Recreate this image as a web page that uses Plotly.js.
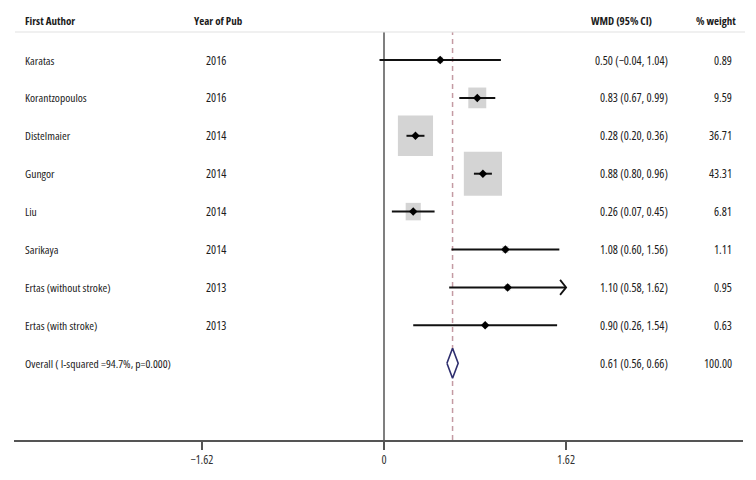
<!DOCTYPE html>
<html>
<head>
<meta charset="utf-8">
<script src="https://cdn.plot.ly/plotly-3.0.1.min.js"></script>
<style>
html,body{margin:0;padding:0;background:#fff;}
#chart{width:756px;height:480px;}
text{font-stretch:condensed !important;}
</style>
</head>
<body>
<div id="chart"></div>
<script>
// ---- data ----
var authors = ["Karatas", "Korantzopoulos", "Distelmaier", "Gungor", "Liu", "Sarikaya", "Ertas (without stroke)", "Ertas (with stroke)"];
var years = ["2016", "2016", "2014", "2014", "2014", "2014", "2013", "2013"];
var est = [0.50, 0.83, 0.28, 0.88, 0.26, 1.08, 1.10, 0.90];
var lo = [-0.04, 0.67, 0.20, 0.80, 0.07, 0.60, 0.58, 0.26];
var hi = [1.04, 0.99, 0.36, 0.96, 0.45, 1.56, 1.62, 1.54];
var weights = [0.89, 9.59, 36.71, 43.31, 6.81, 1.11, 0.95, 0.63];
var overallLabel = "Overall ( I-squared =94.7%, p=0.000)";
var overallEst = 0.61, overallLo = 0.56, overallHi = 0.66, overallWeight = 100.00;
var tickVals = [-1.62, 0, 1.62];
var tickText = ["\u22121.62", "0", "1.62"];
var headers = ["First Author", "Year of Pub", "WMD (95% CI)", "% weight"];

// ---- layout constants ----
var W = 756, H = 480;
var mL = 14, mR = 13, mT = 32, mB = 40;
var pxPerX = 112.4, zeroPx = 384;
var rowPx0 = 60, rowStep = 37.9;
var xr = [(mL - zeroPx) / pxPerX, (W - mR - zeroPx) / pxPerX];
var yr = [1 + (H - mB - rowPx0) / rowStep, 1 + (mT - rowPx0) / rowStep];
var FONT = "'Open Sans', 'Roboto Condensed', sans-serif";
var FS_NUM = 12, FS_TXT = 11.5, FS_HDR = 11;
var txtColor = "#1c1c1c";
function px2paperX(p) { return (p - mL) / (W - mL - mR); }
function fmt(v) { var s = Math.abs(v).toFixed(2); return (v < 0 ? "\u2212" : "") + s; }

var traces = [];
var shapes = [];
var annotations = [];
var rows = authors.map(function (a, i) { return i + 1; });
var overallRow = authors.length + 1;

// boxes (area ~ weight)
weights.forEach(function (w, i) {
  var hw = 5.8 * Math.sqrt(w) / 2 / pxPerX;
  var hh = 6.7 * Math.sqrt(w) / 2 / rowStep;
  shapes.push({type: "rect", xref: "x", yref: "y", x0: est[i] - hw, x1: est[i] + hw,
    y0: rows[i] - hh, y1: rows[i] + hh, fillcolor: "#d4d4d4", line: {width: 0}, layer: "below"});
});

// CI lines
est.forEach(function (e, i) {
  traces.push({type: "scatter", mode: "lines", x: [lo[i], hi[i]], y: [rows[i], rows[i]],
    line: {color: "#111", width: 2}, hoverinfo: "skip", showlegend: false});
  if (hi[i] >= tickVals[2]) {
    var dx = 6 / pxPerX, dy = 7.5 / rowStep;
    traces.push({type: "scatter", mode: "lines", x: [hi[i] - dx, hi[i], hi[i] - dx],
      y: [rows[i] - dy, rows[i], rows[i] + dy], line: {color: "#111", width: 1.8},
      hoverinfo: "skip", showlegend: false});
  }
});

// point estimates
traces.push({type: "scatter", mode: "markers", x: est, y: rows,
  marker: {symbol: "diamond", size: 6.5, color: "#000"}, hoverinfo: "skip", showlegend: false});

// overall diamond
var dh = 15 / rowStep;
traces.push({type: "scatter", mode: "lines", fill: "toself", fillcolor: "#fff",
  x: [overallLo, overallEst, overallHi, overallEst, overallLo],
  y: [overallRow, overallRow - dh, overallRow, overallRow + dh, overallRow],
  line: {color: "#2e2e6e", width: 1.6}, hoverinfo: "skip", showlegend: false});

// reference lines
shapes.push({type: "line", xref: "x", yref: "paper", x0: 0, x1: 0, y0: 0, y1: 1,
  line: {color: "#555", width: 1.5}, layer: "below"});
shapes.push({type: "line", xref: "x", yref: "paper", x0: overallEst, x1: overallEst, y0: 0, y1: 1,
  line: {color: "#c49aa3", width: 1.5, dash: "5px,4px"}, layer: "below"});
shapes.push({type: "line", xref: "paper", yref: "paper", x0: px2paperX(15), x1: px2paperX(745), y0: 1, y1: 1,
  line: {color: "#e2e2e2", width: 1.2}});

// headers
var hdrPos = [{x: 22.5, a: "left"}, {x: 192, a: "left"}, {x: 654, a: "right"}, {x: 738, a: "right"}];
headers.forEach(function (h, i) {
  annotations.push({text: "<b>" + h + "</b>", xref: "paper", yref: "paper", x: px2paperX(hdrPos[i].x),
    y: 1 + (mT - 20.5) / (H - mT - mB), xanchor: hdrPos[i].a, yanchor: "middle", showarrow: false,
    font: {family: FONT, size: FS_HDR, color: txtColor}});
});

// row texts
function addRowText(row, author, year, wmd, wt) {
  var items = [[author, 22.5, "left", FS_TXT], [year, 204, "left", FS_NUM], [wmd, 670, "right", FS_NUM], [wt, 734, "right", FS_NUM]];
  items.forEach(function (it) {
    if (it[0] === "") return;
    annotations.push({text: it[0], xref: "paper", yref: "y", x: px2paperX(it[1]), y: row,
      xanchor: it[2], yanchor: "middle", showarrow: false,
      font: {family: FONT, size: it[3], color: txtColor}});
  });
}
authors.forEach(function (a, i) {
  addRowText(rows[i], a, years[i], est[i].toFixed(2) + " (" + fmt(lo[i]) + ", " + fmt(hi[i]) + ")", weights[i].toFixed(2));
});
addRowText(overallRow, overallLabel, "", overallEst.toFixed(2) + " (" + fmt(overallLo) + ", " + fmt(overallHi) + ")", overallWeight.toFixed(2));

var layout = {
  width: W, height: H,
  margin: {l: mL, r: mR, t: mT, b: mB, pad: 0},
  paper_bgcolor: "#fff", plot_bgcolor: "#fff",
  showlegend: false,
  xaxis: {range: xr, showgrid: false, zeroline: false, showline: true, linecolor: "#555", linewidth: 1.5,
    tickmode: "array", tickvals: tickVals, ticktext: tickText, ticks: "outside", ticklen: 8, tickwidth: 1.5,
    tickcolor: "#555", tickfont: {family: FONT, size: FS_NUM, color: "#333"}, fixedrange: true},
  yaxis: {range: yr, showgrid: false, zeroline: false, showline: false, showticklabels: false, ticks: "", fixedrange: true},
  shapes: shapes,
  annotations: annotations
};

Plotly.newPlot("chart", traces, layout, {displayModeBar: false, staticPlot: true});
</script>
</body>
</html>
